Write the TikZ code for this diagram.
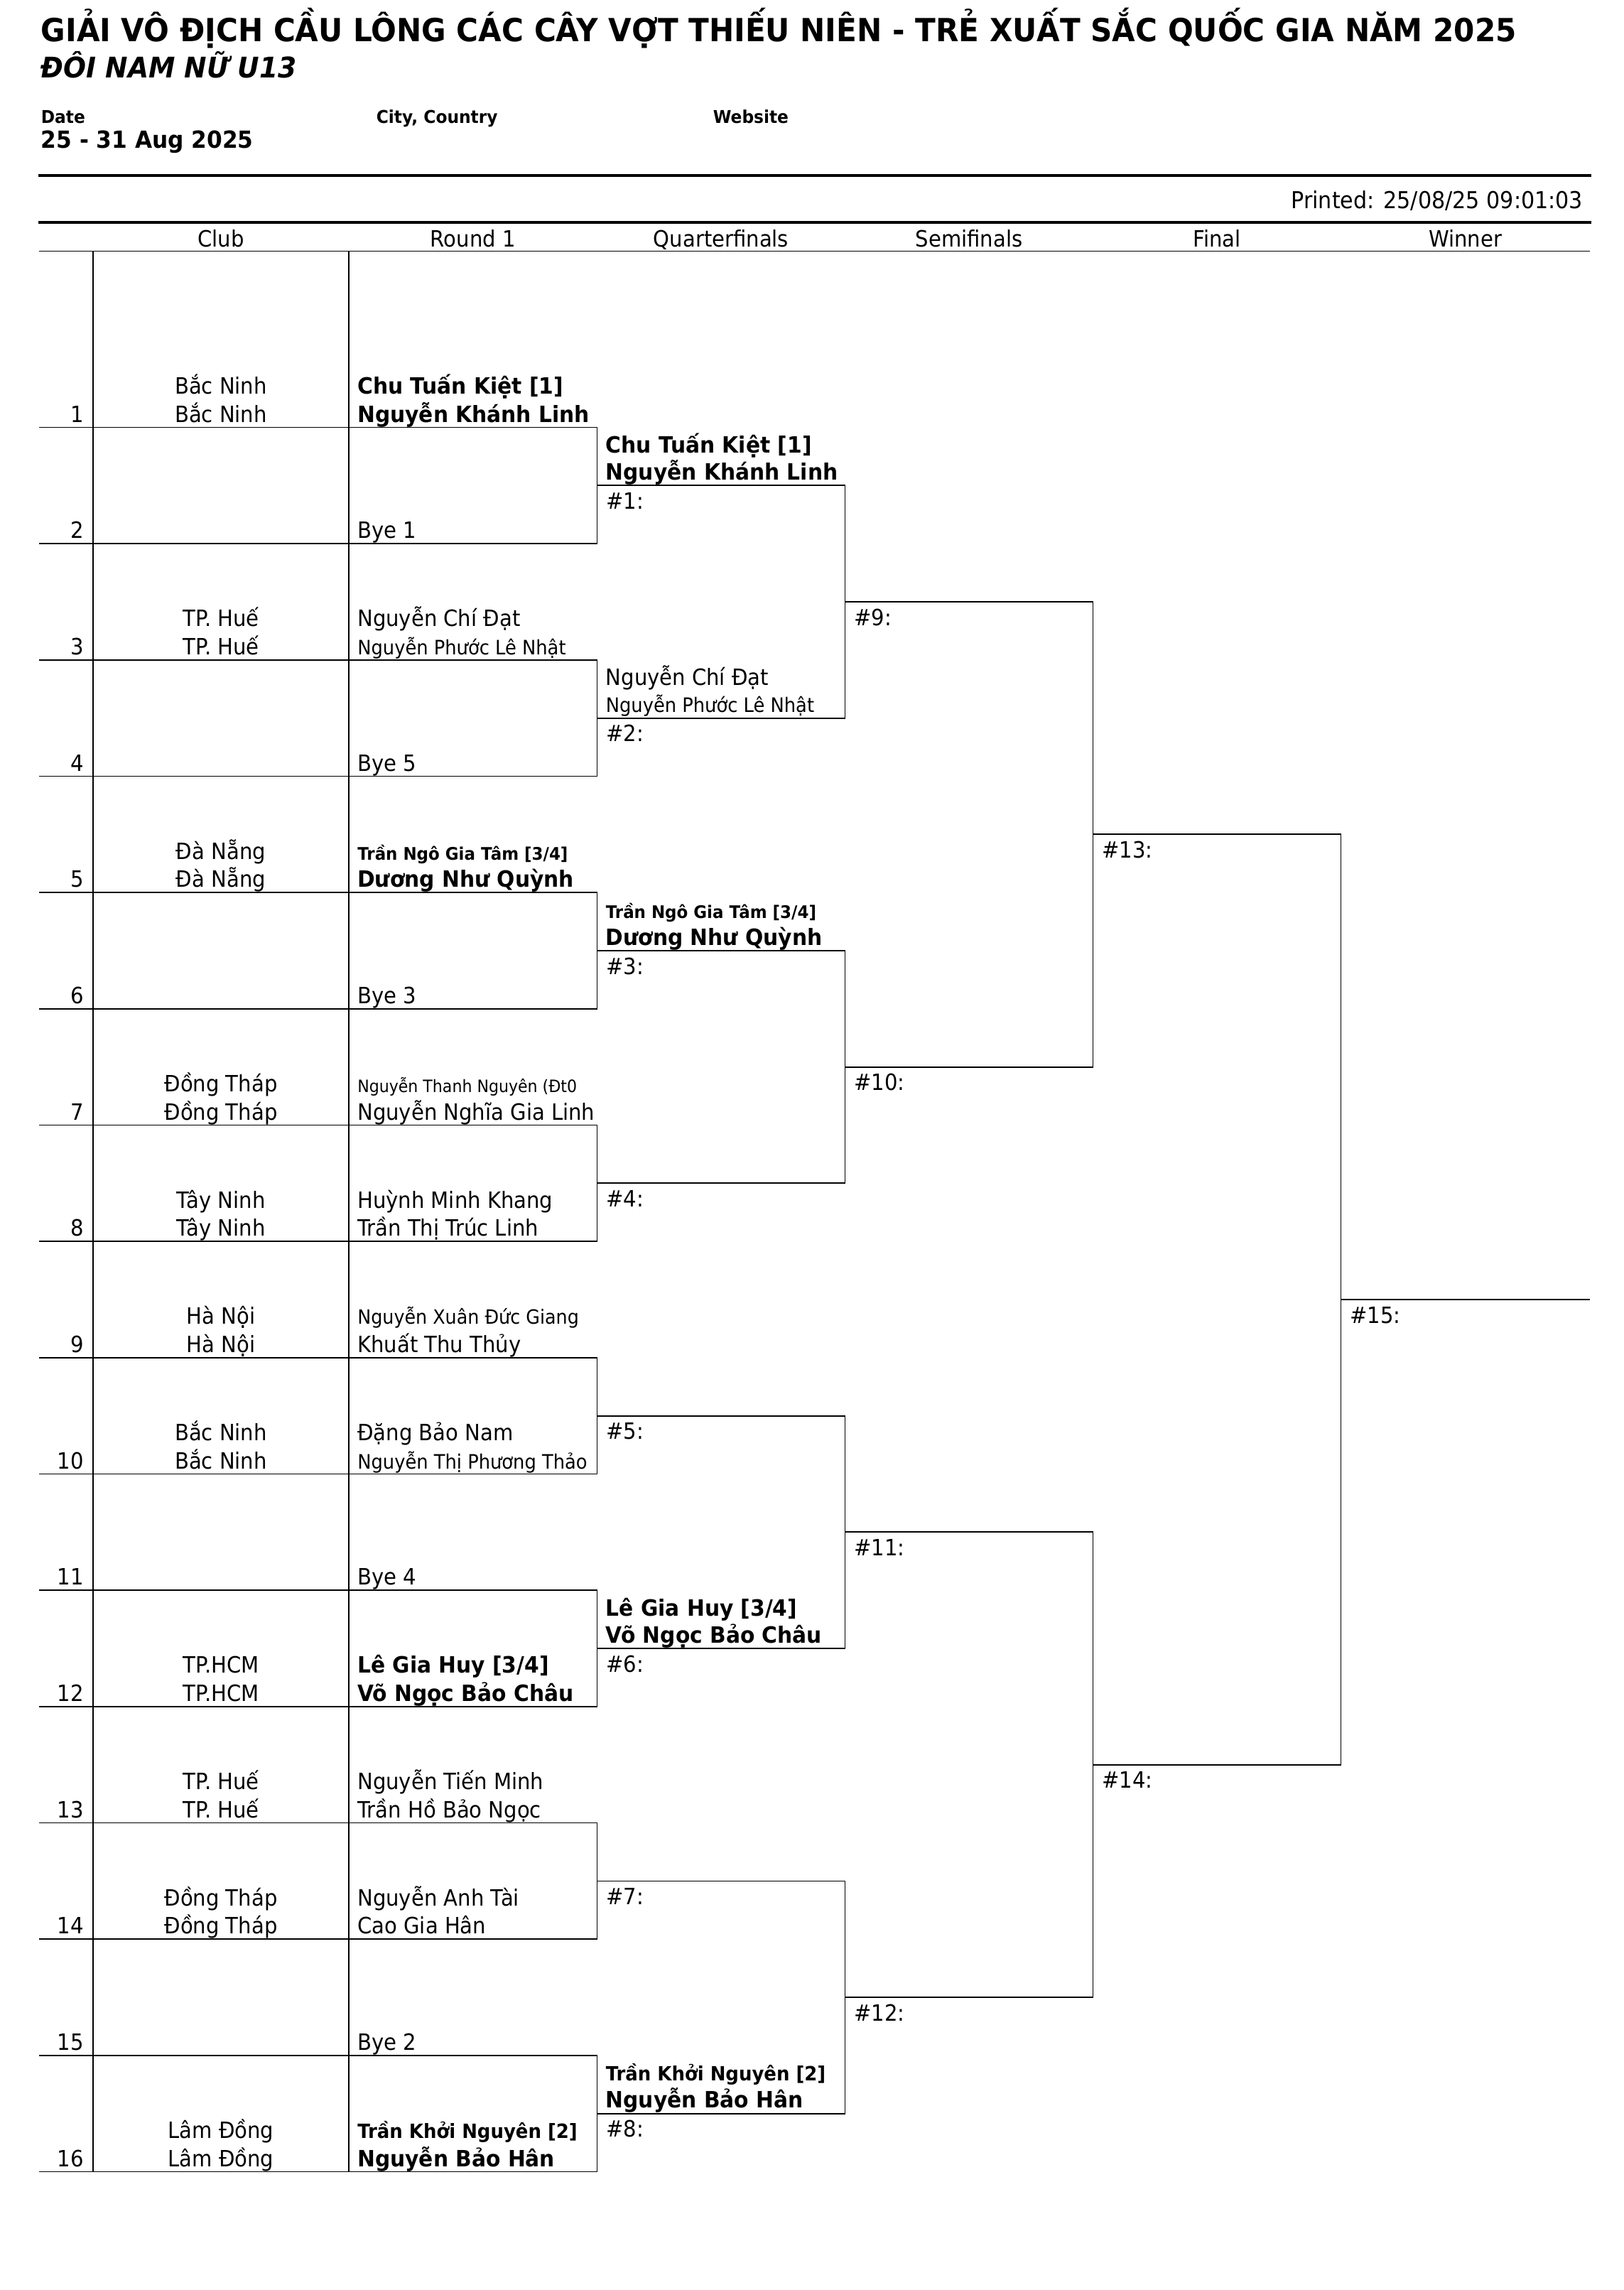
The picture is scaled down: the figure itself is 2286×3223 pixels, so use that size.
\documentclass[tikz,border=0pt]{standalone}
\usepackage{fontspec}
\setmainfont{DejaVu Sans}[UprightFeatures={FakeStretch=0.92},BoldFeatures={FakeStretch=0.94},BoldItalicFeatures={FakeStretch=0.94}]
\newcommand\fnorm{\fontsize{7.9pt}{9.5pt}\selectfont}
\newcommand\ftitle{\fontsize{11.2pt}{13pt}\selectfont\bfseries}
\newcommand\fsub{\fontsize{10pt}{12pt}\selectfont\bfseries\itshape}
\newcommand\fhead{\fontsize{6.2pt}{7.4pt}\selectfont\bfseries}
\newcommand\fdate{\fontsize{8.3pt}{10pt}\selectfont\bfseries}
\newcommand\fprint{\fontsize{8.2pt}{10pt}\selectfont}

\begin{document}
\begin{tikzpicture}[x=0.25pt,y=-0.25pt,
  pl/.style={inner sep=0pt,anchor=base west,font=\fnorm},
  plb/.style={pl,font=\fnorm\bfseries},
  pls/.style={pl,font=\fontsize{#1}{#1}\selectfont},
  plsb/.style={pl,font=\fontsize{#1}{#1}\selectfont\bfseries},
  club/.style={inner sep=0pt,anchor=base,font=\fnorm},
  num/.style={inner sep=0pt,anchor=base east,font=\fnorm},
  rule/.style={line width=0.45pt},
  thick rule/.style={line width=1.2pt}]
\useasboundingbox (0,0) rectangle (2286,3223);

\node[pl,font=\ftitle] (title) at (57,58.7) {GIẢI VÔ ĐỊCH CẦU LÔNG CÁC CÂY VỢT THIẾU NIÊN - TRẺ XUẤT SẮC QUỐC GIA NĂM 2025};
\node[pl,font=\fsub] (subtitle) at (57,109) {ĐÔI NAM NỮ U13};
\node[pl,font=\fhead] (date) at (57,173.5) {Date};
\node[pl,font=\fhead] (city) at (529,173.5) {City, Country};
\node[pl,font=\fhead] (website) at (1003,173.5) {Website};
\node[pl,font=\fdate] (dateval) at (57,208) {25 - 31 Aug 2025};

\coordinate (ra1) at (54,247);
\coordinate (ra2) at (2240,247);
\coordinate (rb1) at (54,313);
\coordinate (rb2) at (2240,313);
\coordinate (rc1) at (55,353.5);
\coordinate (rc2) at (2238,353.5);
\draw[thick rule] (ra1) -- (ra2);
\draw[thick rule] (rb1) -- (rb2);
\draw[rule] (rc1) -- (rc2);
\node[inner sep=0pt,anchor=base east,font=\fprint] (printed) at (2229,293.6) {Printed: 25/08/25 09:01:03};

\node[club] (hclub) at (311,347) {Club};
\node[club] (hround) at (665.75,347) {Round 1};
\node[club] (hquarter) at (1015,347) {Quarterfinals};
\node[club] (hsemi) at (1364,347) {Semifinals};
\node[club] (hfinal) at (1713,347) {Final};
\node[club] (hwinner) at (2062.5,347) {Winner};

\coordinate (clubtop) at (131,353.5);
\coordinate (clubbot) at (131,3056.6);
\coordinate (roundtop) at (491,353.5);
\coordinate (roundbot) at (491,3056.6);
\draw[rule] (clubtop) -- (clubbot);
\draw[rule] (roundtop) -- (roundbot);

\foreach \k in {1,...,16}{
  \pgfmathsetmacro\yy{601.5+(\k-1)*163.67}
  \coordinate (row\k a) at (55,\yy);
  \coordinate (row\k b) at (840.5,\yy);
  \draw[rule] (row\k a) -- (row\k b);
  \node[num] (n\k) at (118.5,\yy-7.5) {\k};
}
\foreach \a/\b in {1/2,3/4,5/6,7/8,9/10,11/12,13/14,15/16}
  \draw[rule] (row\a b) -- (row\b b);

\foreach \L/\cnt/\xa/\xb/\off in {1/8/840.5/1189.5/0,2/4/1189.5/1538.5/8,3/2/1538.5/1887.5/12,4/1/1887.5/2237.5/14}{
  \foreach \n in {1,...,\cnt}{
    \pgfmathsetmacro\yy{601.5+(2^\L*(\n-0.5)-0.5)*163.67}
    \pgfmathtruncatemacro\mm{\off+\n}
    \coordinate (ma\mm) at (\xa,\yy);
    \coordinate (mb\mm) at (\xb,\yy);
    \draw[rule] (ma\mm) -- (mb\mm);
    \node[pl] (m\mm) at (\xa+12,\yy+33) {\#\mm:};
  }
}
\foreach \a/\b in {1/2,3/4,5/6,7/8,9/10,11/12,13/14}
  \draw[rule] (mb\a) -- (mb\b);

\node[club] (c1a) at (311,554.5) {Bắc Ninh};
\node[club] (c1b) at (311,594) {Bắc Ninh};
\node[plb] (p1a) at (502.5,554.5) {Chu Tuấn Kiệt [1]};
\node[plb] (p1b) at (502.5,594) {Nguyễn Khánh Linh};
\node[pl] (p2b) at (502.5,757.7) {Bye 1};
\node[club] (c3a) at (311,881.8) {TP. Huế};
\node[club] (c3b) at (311,921.3) {TP. Huế};
\node[pl] (p3a) at (502.5,881.8) {Nguyễn Chí Đạt};
\node[pls=7pt] (p3b) at (502.5,921.3) {Nguyễn Phước Lê Nhật};
\node[pl] (p4b) at (502.5,1085) {Bye 5};
\node[club] (c5a) at (311,1209.2) {Đà Nẵng};
\node[club] (c5b) at (311,1248.7) {Đà Nẵng};
\node[plsb=6.1pt] (p5a) at (502.5,1210.5) {Trần Ngô Gia Tâm [3/4]};
\node[plb] (p5b) at (502.5,1248.7) {Dương Như Quỳnh};
\node[pl] (p6b) at (502.5,1412.4) {Bye 3};
\node[club] (c7a) at (311,1536.5) {Đồng Tháp};
\node[club] (c7b) at (311,1576) {Đồng Tháp};
\node[pls=6pt] (p7a) at (502.5,1537.5) {Nguyễn Thanh Nguyên (Đt0};
\node[pl] (p7b) at (502.5,1576) {Nguyễn Nghĩa Gia Linh};
\node[club] (c8a) at (311,1700.2) {Tây Ninh};
\node[club] (c8b) at (311,1739.7) {Tây Ninh};
\node[pl] (p8a) at (502.5,1700.2) {Huỳnh Minh Khang};
\node[pl] (p8b) at (502.5,1739.7) {Trần Thị Trúc Linh};
\node[club] (c9a) at (311,1863.9) {Hà Nội};
\node[club] (c9b) at (311,1903.4) {Hà Nội};
\node[pls=6.9pt] (p9a) at (502.5,1863.9) {Nguyễn Xuân Đức Giang};
\node[pl] (p9b) at (502.5,1903.4) {Khuất Thu Thủy};
\node[club] (c10a) at (311,2027.5) {Bắc Ninh};
\node[club] (c10b) at (311,2067) {Bắc Ninh};
\node[pl] (p10a) at (502.5,2027.5) {Đặng Bảo Nam};
\node[pls=7pt] (p10b) at (502.5,2067) {Nguyễn Thị Phương Thảo};
\node[pl] (p11b) at (502.5,2230.7) {Bye 4};
\node[club] (c12a) at (311,2354.9) {TP.HCM};
\node[club] (c12b) at (311,2394.4) {TP.HCM};
\node[plb] (p12a) at (502.5,2354.9) {Lê Gia Huy [3/4]};
\node[plb] (p12b) at (502.5,2394.4) {Võ Ngọc Bảo Châu};
\node[club] (c13a) at (311,2518.5) {TP. Huế};
\node[club] (c13b) at (311,2558) {TP. Huế};
\node[pl] (p13a) at (502.5,2518.5) {Nguyễn Tiến Minh};
\node[pl] (p13b) at (502.5,2558) {Trần Hồ Bảo Ngọc};
\node[club] (c14a) at (311,2682.2) {Đồng Tháp};
\node[club] (c14b) at (311,2721.7) {Đồng Tháp};
\node[pl] (p14a) at (502.5,2682.2) {Nguyễn Anh Tài};
\node[pl] (p14b) at (502.5,2721.7) {Cao Gia Hân};
\node[pl] (p15b) at (502.5,2885.4) {Bye 2};
\node[club] (c16a) at (311,3009.6) {Lâm Đồng};
\node[club] (c16b) at (311,3049.1) {Lâm Đồng};
\node[plsb=6.9pt] (p16a) at (502.5,3009.6) {Trần Khởi Nguyên [2]};
\node[plb] (p16b) at (502.5,3049.1) {Nguyễn Bảo Hân};

\node[plb] (q1a) at (852,637.3) {Chu Tuấn Kiệt [1]};
\node[plb] (q1b) at (852,675.3) {Nguyễn Khánh Linh};
\node[pl] (q2a) at (852,964.7) {Nguyễn Chí Đạt};
\node[pls=7pt] (q2b) at (852,1002.7) {Nguyễn Phước Lê Nhật};
\node[plsb=6.1pt] (q3a) at (852,1292.5) {Trần Ngô Gia Tâm [3/4]};
\node[plb] (q3b) at (852,1330) {Dương Như Quỳnh};
\node[plb] (q6a) at (852,2274) {Lê Gia Huy [3/4]};
\node[plb] (q6b) at (852,2312) {Võ Ngọc Bảo Châu};
\node[plsb=6.9pt] (q8a) at (852,2928.7) {Trần Khởi Nguyên [2]};
\node[plb] (q8b) at (852,2966.7) {Nguyễn Bảo Hân};
\end{tikzpicture}
\end{document}
